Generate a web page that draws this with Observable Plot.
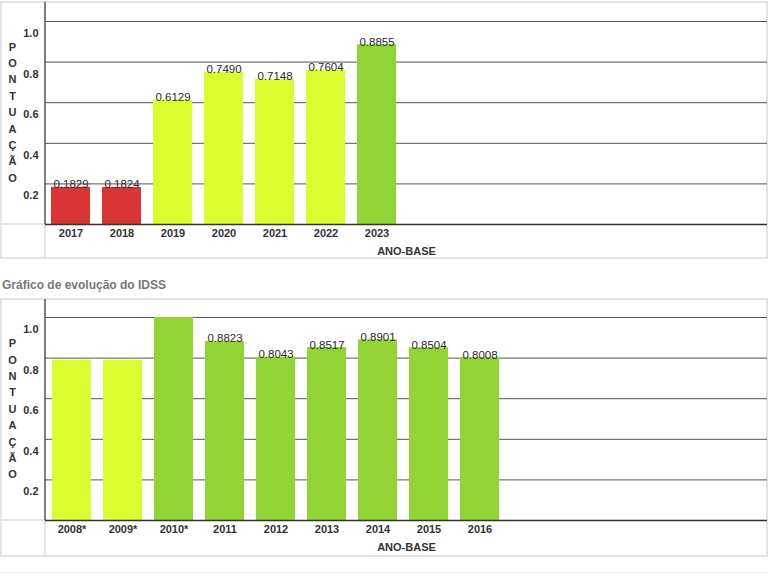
<!DOCTYPE html>
<html><head><meta charset="utf-8">
<script src="https://cdn.jsdelivr.net/npm/d3@7"></script>
<script src="https://cdn.jsdelivr.net/npm/@observablehq/plot@0.6"></script>
<style>
body{margin:0;background:#fff;font-family:"Liberation Sans",Arial,sans-serif;}
svg{display:block}
#titulo{height:36px;box-sizing:border-box;padding:15px 0 0 2px;font-size:12px;font-weight:bold;color:#777;line-height:16px}
#rodape{margin-top:12px;border-top:1px solid #eee;}
</style></head><body>
<div id="c1"></div><div id="titulo">Gráfico de evolução do IDSS</div><div id="c2"></div><div id="rodape"></div>
<script>
const anos1 = ["2017","2018","2019","2020","2021","2022","2023"];
const valores1 = [0.1829,0.1824,0.6129,0.7490,0.7148,0.7604,0.8855];
const faixas1 = ["baixa","baixa","media","media","media","media","alta"];
const rotulos1 = [true,true,true,true,true,true,true];

const anos2 = ["2008*","2009*","2010*","2011","2012","2013","2014","2015","2016"];
const valores2 = [0.79,0.79,1.0,0.8823,0.8043,0.8517,0.8901,0.8504,0.8008];
const faixas2 = ["media","media","alta","alta","alta","alta","alta","alta","alta"];
const rotulos2 = [false,false,false,true,true,true,true,true,true];

const ticksY = [0.2,0.4,0.6,0.8,1.0];
const tituloY = "PONTUAÇÃO";
const tituloX = "ANO-BASE";
const faixas = ["baixa","media","alta"];
const cores = ["#d93535","#dcfc30","#92d435"];

const FONT = '"Liberation Sans", Arial, sans-serif';
const STEP = 51.4, PI = 0.24, PO = 0.1, ML = 45, PXU = 203;

function caixa(index, scales, values, dims) {
  const {width, height, marginLeft, marginTop, marginBottom} = dims;
  const y0 = height - marginBottom;
  const fundo = height - 4;
  const g = d3.create("svg:g");
  g.append("rect").attr("x",1).attr("y",marginTop-1).attr("width",width-2).attr("height",fundo-marginTop+1)
    .attr("fill","none").attr("stroke","#e3e3e3").attr("stroke-width",2);
  g.append("line").attr("x1",1).attr("x2",marginLeft).attr("y1",y0).attr("y2",y0).attr("stroke","#dedede").attr("stroke-width",1.5);
  g.append("line").attr("x1",marginLeft).attr("x2",marginLeft).attr("y1",y0).attr("y2",fundo).attr("stroke","#dedede").attr("stroke-width",1.5);
  g.append("line").attr("x1",marginLeft).attr("x2",marginLeft).attr("y1",marginTop-1).attr("y2",y0).attr("stroke","#555").attr("stroke-width",1.5);
  return g.node();
}

function grafico(anos, valores, fx, rot, height, marginTop, marginBottom) {
  const data = anos.map((a,i) => ({ano:a, valor:valores[i], faixa:fx[i], rotulo:rot[i]}));
  const n = anos.length;
  return Plot.plot({
    width: 768, height, marginTop, marginBottom, marginLeft: ML, marginRight: 1,
    style: {fontFamily: FONT, fontSize: "11px", color: "#333", background: "#fff", overflow: "visible"},
    x: {type: "band", domain: anos, range: [ML, ML + STEP*(n - PI + 2*PO)], paddingInner: PI, paddingOuter: PO, align: 0.5},
    y: {domain: [0, (height - marginTop - marginBottom)/PXU]},
    color: {domain: faixas, range: cores},
    marks: [
      caixa,
      Plot.ruleY(ticksY, {stroke: "#555", strokeWidth: 1}),
      Plot.barY(data, {x: "ano", y: "valor", fill: "faixa"}),
      Plot.ruleY([0], {stroke: "#333", strokeWidth: 1.5}),
      Plot.text(data.filter(d => d.rotulo), {x: "ano", y: "valor", text: d => d3.format(".4f")(d.valor), lineAnchor: "bottom", dy: 1, fill: "#2a2a2a", fontSize: 11.5}),
      Plot.axisX({tickSize: 0, tickPadding: 5, fontWeight: "bold", fontSize: 11, label: null, fill: "#333"}),
      Plot.axisY({ticks: ticksY, tickSize: 0, tickPadding: 7, dy: 12, tickFormat: d3.format(".1f"), fontWeight: "bold", label: null, fill: "#333"}),
      Plot.text([tituloY], {frameAnchor: "left", dx: -33, dy: -3, text: d => d.split("").join("\n"), lineHeight: 1.49, fontWeight: "bold", textAnchor: "middle", fill: "#333", fontSize: 11}),
      Plot.text([tituloX], {frameAnchor: "bottom", dy: 26.5, fontWeight: "bold", lineAnchor: "middle", fill: "#333", fontSize: 11})
    ]
  });
}

document.getElementById("c1").append(grafico(anos1, valores1, faixas1, rotulos1, 262, 3, 38));
document.getElementById("c2").append(grafico(anos2, valores2, faixas2, rotulos2, 262, 2, 40));
</script>
</body></html>
